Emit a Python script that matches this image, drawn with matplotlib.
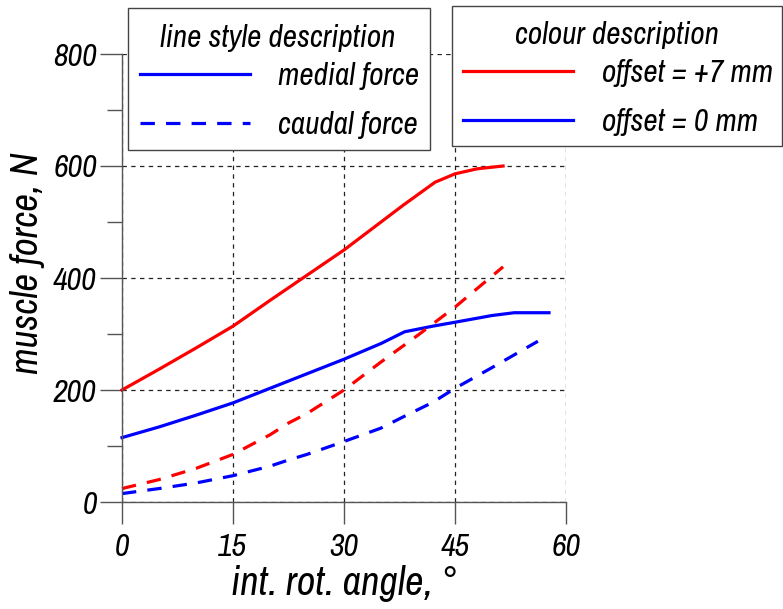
import numpy as np
import matplotlib
matplotlib.use("Agg")
import matplotlib.pyplot as plt
from matplotlib.lines import Line2D
from matplotlib.patches import Rectangle
from matplotlib.ticker import MultipleLocator

plt.rcParams['font.family'] = ['Archivo Narrow', 'Liberation Sans', 'DejaVu Sans']
plt.rcParams['font.style'] = 'italic'

# offset = +7 mm, medial force (red solid)
x_r_med = [0, 5, 10, 15, 20, 25, 30, 35, 38, 42.3, 45, 48, 51.5]
y_r_med = [200, 237, 275, 314, 360, 405, 450, 500, 530, 571, 586, 595, 600]

# offset = 0 mm, medial force (blue solid)
x_b_med = [0, 5, 10, 15, 20, 25, 30, 35, 38.2, 42, 45, 50, 53, 57.7]
y_b_med = [115, 134, 155, 177, 203, 229, 255, 283, 304, 314, 321, 333, 338, 338]

# offset = +7 mm, caudal force (red dashed)
x_r_cau = [0, 5, 10, 15, 20, 22.5, 25, 30, 35, 40, 45, 51.5]
y_r_cau = [24, 40, 60, 85, 120, 141, 158, 200, 250, 298, 348, 420]

# offset = 0 mm, caudal force (blue dashed)
x_b_cau = [0, 5, 10, 15, 20, 22.5, 25, 30, 35, 38, 42, 45, 50, 56.2]
y_b_cau = [15, 24, 34, 47, 64, 75, 85, 108, 132, 152, 178, 203, 240, 287]

xticks = [0, 15, 30, 45, 60]
yticks = [0, 200, 400, 600, 800]

W, H = 783, 609
fig = plt.figure(figsize=(W/100, H/100), dpi=100)
ax = fig.add_axes([122/W, 107/H, 444/W, 448/H])

red = '#ff0000'
blue = '#0000ff'
lw = 2.3
dash = (0, (4.5, 3.5))

ax.plot(x_r_med, y_r_med, color=red, lw=lw, clip_on=False)
ax.plot(x_b_med, y_b_med, color=blue, lw=lw, clip_on=False)
ax.plot(x_r_cau, y_r_cau, color=red, lw=lw, ls=dash, clip_on=False)
ax.plot(x_b_cau, y_b_cau, color=blue, lw=lw, ls=dash, clip_on=False)

ax.set_xlim(0, 60)
ax.set_ylim(0, 800)
ax.set_xticks(xticks)
ax.set_yticks(yticks)
ax.yaxis.set_minor_locator(MultipleLocator(100))
ax.grid(True, which='major', color='#222222', ls=(0, (3.5, 3.5)), lw=0.9)
for s in ['top', 'right']:
    ax.spines[s].set_visible(False)
for s in ['left', 'bottom']:
    ax.spines[s].set_color('#555555')
    ax.spines[s].set_linewidth(1.0)
ax.tick_params(axis='both', which='major', length=16, width=1.0, color='#555555',
               labelsize=23, pad=2)
ax.tick_params(axis='y', which='minor', length=11, width=1.0, color='#555555')
ax.tick_params(axis='x', pad=6)

ax.set_xlabel('int. rot. angle, °', fontsize=29, labelpad=3)
ax.set_ylabel('muscle force, N', fontsize=28)
ax.yaxis.set_label_coords(-0.173, 0.533)

# legend boxes (drawn by hand so the title spacing matches)
def box(x0, y0, x1, y1):
    fig.patches.append(Rectangle((x0/W, 1 - y1/H), (x1 - x0)/W, (y1 - y0)/H,
                                 transform=fig.transFigure, facecolor='white',
                                 edgecolor='#444444', lw=1.0, zorder=5))

leg_fs = 22.5
fs_px = leg_fs * 100 / 72

box(128, 8, 430, 150)
fig.text(278/W, 1 - 38/H, 'line style description', fontsize=leg_fs,
         ha='center', va='center', zorder=6)
h1 = [Line2D([], [], color=blue, lw=lw),
      Line2D([], [], color=blue, lw=lw, ls=dash)]
leg1 = fig.legend(h1, ['medial force', 'caudal force'],
                  loc='upper left', bbox_to_anchor=(140/W, 1 - 62/H),
                  fontsize=leg_fs, handlelength=110/fs_px, handletextpad=28/fs_px,
                  frameon=False, borderpad=0, borderaxespad=0, labelspacing=0.66)
leg1.set_zorder(6)

box(452, 6, 782, 146)
fig.text(617/W, 1 - 35/H, 'colour description', fontsize=leg_fs,
         ha='center', va='center', zorder=6)
h2 = [Line2D([], [], color=red, lw=lw),
      Line2D([], [], color=blue, lw=lw)]
leg2 = fig.legend(h2, ['offset = +7 mm', 'offset = 0 mm'],
                  loc='upper left', bbox_to_anchor=(463/W, 1 - 59/H),
                  fontsize=leg_fs, handlelength=110/fs_px, handletextpad=29/fs_px,
                  frameon=False, borderpad=0, borderaxespad=0, labelspacing=0.66)
leg2.set_zorder(6)

fig.savefig('out.png', dpi=100)
